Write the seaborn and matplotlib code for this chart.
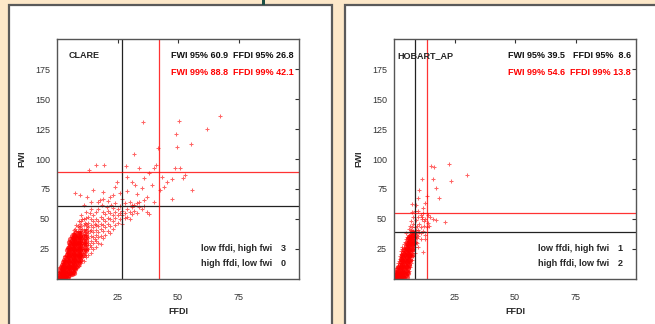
import matplotlib
matplotlib.use("Agg")
import matplotlib.pyplot as plt
from matplotlib.patches import Rectangle
import numpy as np
import pandas as pd
import seaborn as sns

sns.set_style("white")
plt.rcParams['font.family'] = ['Liberation Sans', 'DejaVu Sans']

# station names
stations = ["CLARE", "HOBART_AP"]

# percentile thresholds
fwi95 = [60.9, 39.5]
ffdi95 = [26.8, 8.6]
fwi99 = [88.8, 54.6]
ffdi99 = [42.1, 13.8]

# quadrant counts
low_ffdi_high_fwi = [3, 1]
high_ffdi_low_fwi = [0, 2]

# (FFDI, FWI) points for CLARE
clare_pts = [
    (0.3, 0.5), (0.5, 1), (0.5, 2.5), (0.8, 0.3), (1, 2), (1, 4), (1, 6), (1.3, 1), (1.5, 1), (1.5, 3.5),
    (1.5, 6), (1.5, 8.5), (1.8, 2), (2, 3), (2, 5), (2, 8), (2, 10.5), (2.3, 1), (2.5, 1), (2.5, 5),
    (2.5, 7.5), (2.5, 11), (2.5, 13.5), (2.8, 3), (3, 3), (3, 7), (3, 10), (3, 13), (3, 16), (3.3, 5),
    (3.5, 2), (3.5, 9), (3.5, 12.5), (3.5, 16), (3.5, 19), (3.8, 6), (4, 5), (4, 8), (4, 11), (4, 15),
    (4, 19), (4, 22), (4.3, 2), (4.5, 3), (4.5, 9), (4.5, 14), (4.5, 18), (4.5, 22), (4.5, 26), (4.8, 6),
    (5, 8), (5, 12), (5, 17), (5, 21), (5, 25), (5, 29), (5.3, 4), (5.5, 5), (5.5, 10), (5.5, 14),
    (5.5, 20), (5.5, 24), (5.5, 28), (5.5, 32), (5.8, 8), (6, 4), (6, 10), (6, 15), (6, 19), (6, 23),
    (6, 27), (6, 31), (6, 35), (6.3, 12), (6.5, 7), (6.5, 14), (6.5, 18), (6.5, 22), (6.5, 27), (6.5, 30),
    (6.5, 34), (6.5, 38), (6.8, 10), (7, 6), (7, 12), (7, 17), (7, 21), (7, 25), (7, 30), (7, 34),
    (7, 38), (7, 41), (7.5, 9), (7.5, 16), (7.5, 20), (7.5, 25), (7.5, 29), (7.5, 33), (7.5, 37), (7.5, 42),
    (8, 9), (8, 14), (8, 19), (8, 24), (8, 28), (8, 32), (8, 36), (8, 40), (8, 45), (8.5, 12),
    (8.5, 18), (8.5, 23), (8.5, 27), (8.5, 31), (8.5, 35), (8.5, 40), (8.5, 44), (9, 11), (9, 15), (9, 21),
    (9, 26), (9, 30), (9, 35), (9, 39), (9, 43), (9, 48), (9.5, 14), (9.5, 19), (9.5, 24), (9.5, 29),
    (9.5, 33), (9.5, 38), (9.5, 42), (9.5, 46), (10, 13), (10, 18), (10, 22), (10, 27), (10, 31), (10, 36),
    (10, 40), (10, 44), (10, 48), (10, 53), (10.5, 16), (10.5, 25), (10.5, 34), (10.5, 42), (10.5, 50), (11, 15),
    (11, 20), (11, 25), (11, 29), (11, 33), (11, 37), (11, 41), (11, 45), (11, 50), (11.5, 22), (11.5, 31),
    (11.5, 39), (11.5, 47), (12, 18), (12, 24), (12, 28), (12, 33), (12, 37), (12, 42), (12, 46), (12, 51),
    (12, 56), (12.5, 26), (12.5, 35), (12.5, 44), (13, 20), (13, 25), (13, 30), (13, 34), (13, 38), (13, 43),
    (13, 47), (13, 52), (13.5, 28), (13.5, 40), (13.5, 55), (14, 22), (14, 27), (14, 32), (14, 36), (14, 41),
    (14, 45), (14, 50), (14, 58), (15, 25), (15, 30), (15, 35), (15, 39), (15, 43), (15, 48), (15, 53),
    (15.5, 33), (15.5, 46), (16, 27), (16, 32), (16, 37), (16, 41), (16, 45), (16, 50), (16, 56), (17, 30),
    (17, 35), (17, 39), (17, 44), (17, 48), (17, 58), (18, 29), (18, 36), (18, 42), (18, 46), (18, 52),
    (18.5, 62), (19, 34), (19, 40), (19, 45), (19, 50), (19, 56), (20, 37), (20, 43), (20, 48), (20, 54),
    (20.5, 60), (21, 40), (21, 46), (21, 51), (21, 57), (22, 38), (22, 44), (22, 50), (22, 55), (22.5, 62),
    (23, 42), (23, 48), (23, 53), (23, 59), (24, 45), (24, 51), (24, 56), (25, 47), (25, 53), (25, 58),
    (26, 50), (26, 55), (26, 61), (27, 46), (27, 53), (27, 57), (28, 51), (28, 55), (28, 63), (29, 52),
    (29, 58), (30, 50), (30, 56), (31, 54), (31, 60), (32, 57), (32, 62), (33, 55), (34, 60), (35, 58),
    (36, 61), (37, 56), (38, 54), (33, 63), (30, 64), (24, 63), (21, 65), (17, 64), (19, 67),
    (7.4, 71.4), (9.5, 70), (12.3, 68.6), (15, 74.2), (17.8, 65.8), (19.1, 72.8), (21.9, 68.6), (24, 76.9),
    (24.7, 81.1), (28.8, 73.6), (30.9, 81.1), (32.2, 78.3), (35, 75.6), (37.1, 68.6), (39.1, 78.3), (42.6, 74.2),
    (44.3, 76.9), (43.4, 85.3), (45.5, 81.1), (47.6, 83.3), (47.4, 66.4), (51.9, 84.4), (52.9, 86.7), (55.7, 74.2),
    (13.2, 90.8), (16.2, 95.3), (19.5, 95.3), (28.5, 94.2), (34, 92.8), (40.1, 92.2), (40.8, 94.7), (48.8, 92.8),
    (50.8, 92.2), (31.8, 103.9), (41.7, 108.9), (49.6, 110.3), (55.5, 112.5), (49.2, 120.6), (35.7, 131.1),
    (50.4, 131.9), (61.9, 125.3), (67.4, 135.8), (30.9, 61.7), (34, 63.9), (27, 67), (26, 72), (29, 85),
    (36, 84), (38, 88), (33, 71), (23, 70), (11, 62), (14, 64), (40, 64), (36, 66),
]

# solid red mass of overlapping CLARE points near the origin
clare_core = [
    (0.5, 1), (0.5, 4), (1, 1), (1, 5), (1, 8), (1.5, 2), (1.5, 6), (1.5, 10),
    (2, 1), (2, 4), (2, 8), (2, 12), (2.5, 2), (2.5, 6), (2.5, 10), (2.5, 14),
    (3, 1), (3, 4), (3, 8), (3, 12), (3, 16), (3.5, 2), (3.5, 6), (3.5, 10), (3.5, 14), (3.5, 18),
    (4, 1), (4, 4), (4, 8), (4, 12), (4, 16), (4, 20), (4, 24),
    (4.5, 2), (4.5, 6), (4.5, 10), (4.5, 14), (4.5, 18), (4.5, 22), (4.5, 26),
    (5, 3), (5, 7), (5, 11), (5, 15), (5, 19), (5, 23), (5, 27), (5, 31),
    (5.5, 5), (5.5, 9), (5.5, 13), (5.5, 17), (5.5, 21), (5.5, 25), (5.5, 29), (5.5, 33),
    (6, 4), (6, 8), (6, 12), (6, 16), (6, 20), (6, 24), (6, 28), (6, 32), (6, 36),
    (6.5, 6), (6.5, 10), (6.5, 14), (6.5, 18), (6.5, 22), (6.5, 26), (6.5, 30), (6.5, 34),
    (7, 5), (7, 9), (7, 13), (7, 17), (7, 21), (7, 25), (7, 29), (7, 33), (7, 37),
    (7.5, 8), (7.5, 12), (7.5, 16), (7.5, 20), (7.5, 24), (7.5, 28), (7.5, 32), (7.5, 36),
    (8, 10), (8, 14), (8, 18), (8, 22), (8, 26), (8, 30), (8, 34), (8, 38),
    (8.5, 12), (8.5, 16), (8.5, 20), (8.5, 24), (8.5, 28), (8.5, 32), (8.5, 36),
    (9, 14), (9, 18), (9, 22), (9, 26), (9, 30), (9, 34), (9, 38),
    (9.5, 16), (9.5, 20), (9.5, 24), (9.5, 28), (9.5, 32), (9.5, 36),
    (10, 18), (10, 22), (10, 26), (10, 30), (10, 34), (10, 38),
    (11, 20), (11, 24), (11, 28), (11, 32), (11, 36), (12, 24), (12, 28), (12, 32), (12, 36), (12, 40),
]

# (FFDI, FWI) points for HOBART_AP
hobart_pts = [
    (0.2, 0.5), (0.3, 2), (0.5, 1), (0.5, 3.5), (0.8, 0.5), (0.8, 5), (1, 2), (1, 4), (1, 7), (1.2, 1),
    (1.3, 9), (1.5, 1), (1.5, 4), (1.5, 6), (1.5, 11), (1.8, 2), (1.8, 13), (2, 3), (2, 6), (2, 9),
    (2, 15), (2.3, 1), (2.3, 11), (2.3, 17), (2.5, 3), (2.5, 8), (2.5, 13), (2.5, 19), (2.8, 5), (2.8, 21),
    (3, 2), (3, 10), (3, 15), (3, 18), (3, 23), (3.3, 7), (3.3, 13), (3.3, 25), (3.5, 4), (3.5, 17),
    (3.5, 20), (3.5, 27), (3.8, 2), (3.8, 10), (3.8, 23), (4, 6), (4, 15), (4, 19), (4, 26), (4, 29),
    (4.3, 12), (4.3, 22), (4.5, 3), (4.5, 9), (4.5, 17), (4.5, 25), (4.5, 31), (4.8, 14), (4.8, 28), (5, 6),
    (5, 11), (5, 20), (5, 24), (5, 33), (5.3, 4), (5.3, 16), (5.3, 30), (5.5, 9), (5.5, 13), (5.5, 22),
    (5.5, 27), (5.5, 35), (5.8, 18), (5.8, 32), (6, 7), (6, 12), (6, 25), (6, 29), (6, 37), (6.3, 15),
    (6.3, 21), (6.3, 34), (6.5, 10), (6.5, 18), (6.5, 27), (6.5, 31), (6.5, 39), (6.8, 23), (6.8, 36), (7, 13),
    (7, 20), (7, 29), (7, 33), (7, 41), (7.3, 16), (7.3, 26), (7.3, 38), (7.5, 22), (7.5, 31), (7.5, 35),
    (7.5, 43), (7.8, 19), (7.8, 28), (8, 25), (8, 33), (8, 37), (8, 40), (8, 46), (8.3, 30), (8.5, 22),
    (8.5, 35), (8.5, 39), (8.5, 43), (8.8, 27), (9, 31), (9, 37), (9, 41), (9, 49), (9.3, 34), (9.5, 38),
    (9.5, 44), (10, 36), (10, 41), (10, 52), (10.5, 39), (10.5, 46), (11, 33), (11, 43), (11.5, 50), (12, 40),
    (12, 55), (12.5, 44), (13, 37), (13, 50), (13.5, 43), (14, 53), (6.5, 44), (7, 48), (8, 52), (7.5, 56),
    (8.5, 57), (9, 62), (10, 57), (11, 53), (12, 59), (14, 47), (15, 52), (16, 50), (6, 42), (5, 38),
    (7.6, 62.5), (10, 67.2), (10.2, 74.2), (12.8, 63), (13.8, 69), (11.4, 83), (16, 83), (15.2, 94.2),
    (16.5, 93), (17.5, 76), (18.7, 67.8), (22.9, 95.6), (23.4, 81.7), (30.3, 86.9), (17.4, 49), (21, 47.7),
    (11.7, 51.7), (12.1, 22.8), (9.5, 30), (10, 27), (11, 38), (14.5, 44), (12.5, 48), (13, 33),
]

# solid red mass of overlapping HOBART_AP points
hobart_core = [
    (0.3, 1), (0.3, 4), (0.8, 2), (0.8, 6), (1.3, 1), (1.3, 4), (1.3, 8),
    (1.8, 2), (1.8, 6), (1.8, 10), (2.3, 1), (2.3, 4), (2.3, 8), (2.3, 12),
    (2.8, 2), (2.8, 6), (2.8, 10), (2.8, 14), (2.8, 17),
    (3.3, 1), (3.3, 4), (3.3, 8), (3.3, 12), (3.3, 16), (3.3, 20),
    (3.8, 2), (3.8, 6), (3.8, 10), (3.8, 14), (3.8, 18), (3.8, 22),
    (4.3, 1), (4.3, 4), (4.3, 8), (4.3, 12), (4.3, 16), (4.3, 20), (4.3, 24),
    (4.8, 3), (4.8, 7), (4.8, 11), (4.8, 15), (4.8, 19), (4.8, 23), (4.8, 27),
    (5.3, 2), (5.3, 6), (5.3, 10), (5.3, 14), (5.3, 18), (5.3, 22), (5.3, 26), (5.3, 30),
    (5.8, 5), (5.8, 9), (5.8, 13), (5.8, 17), (5.8, 21), (5.8, 25), (5.8, 29), (5.8, 33),
    (6.3, 12), (6.3, 16), (6.3, 20), (6.3, 24), (6.3, 28), (6.3, 32), (6.3, 35),
    (6.8, 16), (6.8, 20), (6.8, 24), (6.8, 28), (6.8, 32), (6.8, 36),
    (7.3, 20), (7.3, 24), (7.3, 28), (7.3, 32), (7.3, 36), (7.3, 39),
    (7.8, 25), (7.8, 29), (7.8, 33), (7.8, 37), (8.3, 30), (8.3, 34), (8.3, 38),
]

bg = '#fde8c9'
fig = plt.figure(figsize=(6.55, 3.24), dpi=100, facecolor=bg)
W, H = 655, 324

# white panels behind each chart
for x0, x1 in [(9, 332), (345, 670)]:
    fig.patches.append(Rectangle((x0 / W, -0.05), (x1 - x0) / W, (H - 5) / H + 0.05,
                                 transform=fig.transFigure, facecolor='white',
                                 edgecolor='#5a5a5a', linewidth=1.6, zorder=-1))

# bit of the cut-off page title peeking in at the top
fig.patches.append(Rectangle((261.5 / W, (H - 4.5) / H), 3 / W, 5 / H, transform=fig.transFigure,
                             facecolor='#1d4f45', edgecolor='none', zorder=-1))

all_pts = [clare_pts, hobart_pts]
all_core = [clare_core, hobart_core]
lefts = [57, 394]
for i, name in enumerate(stations):
    ax = fig.add_axes([lefts[i] / W, (H - 279) / H, 242 / W, 240 / H])
    core = pd.DataFrame(all_core[i], columns=["FFDI", "FWI"])
    sns.scatterplot(data=core, x="FFDI", y="FWI", ax=ax, marker='o', s=14,
                    color='red', alpha=0.65, linewidth=0)
    df = pd.DataFrame(all_pts[i], columns=["FFDI", "FWI"])
    sns.scatterplot(data=df, x="FFDI", y="FWI", ax=ax, marker='+', s=9,
                    color='red', edgecolor='red', alpha=0.6, linewidth=0.75)
    ax.axvline(ffdi95[i], color='#222222', lw=0.9)
    ax.axhline(fwi95[i], color='#222222', lw=0.9)
    ax.axvline(ffdi99[i], color='red', lw=0.9, alpha=0.8)
    ax.axhline(fwi99[i], color='red', lw=0.9, alpha=0.8)
    ax.set_xlim(0, 100)
    ax.set_ylim(0, 200)
    ax.set_xticks([25, 50, 75])
    ax.set_yticks([25, 50, 75, 100, 125, 150, 175])
    ax.tick_params(direction='in', length=3, width=0.8, top=True, right=True,
                   labelsize=6.5, colors='#333333', pad=10)
    ax.tick_params(axis='y', pad=5)
    for s in ax.spines.values():
        s.set_color('#555555')
        s.set_linewidth(1.0)
    ax.set_xlabel("FFDI", fontsize=6.5, fontweight='bold', labelpad=4)
    ax.set_ylabel("FWI", fontsize=6.5, fontweight='bold', labelpad=6)

    kw = dict(transform=ax.transAxes, fontsize=6.5, fontweight='bold')
    ax.text(0.05 if i == 0 else 0.012, 0.93, name, va='center', ha='left', **kw)
    ax.text(0.707, 0.93, f"FWI 95% {fwi95[i]}", ha='right', va='center', color='#111111', **kw)
    ax.text(0.979, 0.93, f"FFDI 95% {ffdi95[i]:>4}", ha='right', va='center', color='#111111', **kw)
    ax.text(0.707, 0.862, f"FWI 99% {fwi99[i]}", ha='right', va='center', color='red', **kw)
    ax.text(0.979, 0.862, f"FFDI 99% {ffdi99[i]}", ha='right', va='center', color='red', **kw)
    ax.text(0.89, 0.129, "low ffdi, high fwi", ha='right', va='center', **kw)
    ax.text(0.934, 0.129, str(low_ffdi_high_fwi[i]), ha='center', va='center', **kw)
    ax.text(0.89, 0.0625, "high ffdi, low fwi", ha='right', va='center', **kw)
    ax.text(0.934, 0.0625, str(high_ffdi_low_fwi[i]), ha='center', va='center', **kw)

fig.savefig("out.png", dpi=100, facecolor=bg)
